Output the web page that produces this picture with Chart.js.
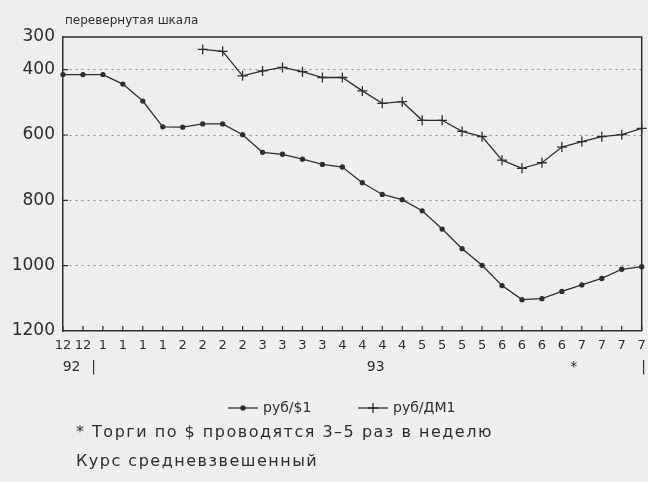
<!DOCTYPE html>
<html>
<head>
<meta charset="utf-8">
<script src="https://cdn.jsdelivr.net/npm/chart.js@4.4.0/dist/chart.umd.min.js"></script>
<style>
  html, body { margin: 0; padding: 0; background: #eeeeee; }
  #wrap { width: 648px; height: 482px; }
</style>
</head>
<body>
<div id="wrap"><canvas id="rateChart" width="648" height="482"></canvas></div>
<script>
// months of the weekly observations (Dec 1992 - Jul 1993)
const months = ['12','12','1','1','1','1','2','2','2','2','3','3','3','3',
                '4','4','4','4','5','5','5','5','6','6','6','6','7','7','7','7'];

// rub per 1 USD
const usdRate = [415, 415, 415, 444, 496, 575, 576, 566, 566, 599,
                 653, 659, 674, 690, 698, 746, 782, 798, 832, 888,
                 948, 999, 1061, 1104, 1101, 1079, 1059, 1039, 1011, 1003];

// rub per 1 DM (starts in February)
const dmRate = [null, null, null, null, null, null, null, 338, 344, 419,
                404, 393, 406, 424, 424, 465, 503, 498, 555, 555,
                589, 605, 677, 702, 685, 637, 620, 605, 599, 580];

const yTicks = [300, 400, 600, 800, 1000, 1200];

// second row under the month labels: [position in weeks, text]
const yearMarks = [[0.43, '92'], [1.53, '|'], [15.67, '93'], [25.6, '*'], [29.1, '|']];

const seriesNames = ['руб/$1', 'руб/ДМ1'];
const chartTitle = 'перевернутая шкала';
const notes = ['* Торги по $ проводятся 3–5 раз в неделю', 'Курс средневзвешенный'];

const ink = '#2e2e2e';
const font = '"DejaVu Sans", sans-serif';

const decorPlugin = {
    id: 'decor',
    afterDraw(chart) {
        const ctx = chart.ctx;
        const area = chart.chartArea;
        const xs = chart.scales.x;
        const ys = chart.scales.y;
        ctx.save();

        // box top + right
        ctx.strokeStyle = ink;
        ctx.lineWidth = 1.5;
        ctx.beginPath();
        ctx.moveTo(area.left, area.top);
        ctx.lineTo(area.right, area.top);
        ctx.lineTo(area.right, area.bottom);
        ctx.stroke();

        // inward tick marks
        ctx.lineWidth = 1.2;
        ctx.beginPath();
        for (let i = 0; i < months.length; i++) {
            const x = xs.getPixelForTick(i);
            ctx.moveTo(x, area.bottom);
            ctx.lineTo(x, area.bottom - 5);
        }
        yTicks.forEach(v => {
            if (v === ys.min || v === ys.max) return;
            const y = ys.getPixelForValue(v);
            ctx.moveTo(area.left, y);
            ctx.lineTo(area.left + 5, y);
        });
        ctx.stroke();

        // year row
        ctx.fillStyle = ink;
        ctx.font = '14px ' + font;
        ctx.textAlign = 'center';
        ctx.textBaseline = 'middle';
        yearMarks.forEach(m => {
            ctx.fillText(m[1], xs.getPixelForValue(m[0]), area.bottom + 36);
        });

        // title above the plot
        ctx.font = '12px ' + font;
        ctx.textAlign = 'left';
        ctx.fillText(chartTitle, area.left + 2, area.top - 16);

        // legend
        const legendY = 408;
        const legendX = [228, 358];
        chart.data.datasets.forEach((ds, i) => {
            const x0 = legendX[i];
            ctx.strokeStyle = ink;
            ctx.lineWidth = 1.3;
            ctx.beginPath();
            ctx.moveTo(x0, legendY);
            ctx.lineTo(x0 + 30, legendY);
            ctx.stroke();
            Chart.helpers.drawPoint(ctx, {
                pointStyle: ds.pointStyle,
                radius: ds.pointRadius,
                borderWidth: ds.borderWidth
            }, x0 + 15, legendY);
            ctx.fillStyle = ink;
            ctx.font = '14px ' + font;
            ctx.textAlign = 'left';
            ctx.fillText(ds.label, x0 + 35, legendY);
        });

        // notes
        ctx.font = '16px ' + font;
        ctx.letterSpacing = '1.5px';
        ctx.fillText(notes[0], 76, 433);
        ctx.fillText(notes[1], 76, 462);

        ctx.restore();
    }
};

new Chart(document.getElementById('rateChart'), {
    type: 'line',
    data: {
        labels: months,
        datasets: [{
            label: seriesNames[0],
            data: usdRate,
            borderColor: ink,
            backgroundColor: ink,
            borderWidth: 1.3,
            pointStyle: 'circle',
            pointRadius: 2,
            tension: 0
        }, {
            label: seriesNames[1],
            data: dmRate,
            borderColor: ink,
            backgroundColor: ink,
            borderWidth: 1.3,
            pointStyle: 'cross',
            pointRadius: 5,
            tension: 0
        }]
    },
    options: {
        responsive: false,
        animation: false,
        layout: {
            padding: { left: 0, top: 37, right: 4, bottom: 111 }
        },
        plugins: {
            legend: { display: false },
            tooltip: { enabled: false }
        },
        scales: {
            x: {
                offset: false,
                grid: { display: false, drawTicks: false },
                border: { display: true, color: ink, width: 1.5 },
                ticks: {
                    color: ink,
                    font: { family: font, size: 13 },
                    padding: 7,
                    autoSkip: false,
                    maxRotation: 0
                },
                afterFit(scale) {
                    scale.height = 40;
                    scale.paddingLeft = 0;
                    scale.paddingRight = 0;
                }
            },
            y: {
                reverse: true,
                min: 300,
                max: 1200,
                afterBuildTicks(scale) {
                    scale.ticks = yTicks.map(v => ({ value: v }));
                },
                grid: {
                    drawTicks: false,
                    lineWidth: 1,
                    color: c => (c.tick && (c.tick.value === 300 || c.tick.value === 1200)) ? 'rgba(0,0,0,0)' : '#8a8a8a'
                },
                border: { display: true, color: ink, width: 1.5, dash: [2, 4] },
                ticks: {
                    color: ink,
                    font: { family: font, size: 17 },
                    padding: 8,
                    callback: v => String(v)
                },
                afterFit(scale) {
                    scale.width = 63;
                    scale.paddingTop = 0;
                    scale.paddingBottom = 0;
                }
            }
        }
    },
    plugins: [decorPlugin]
});
</script>
</body>
</html>
